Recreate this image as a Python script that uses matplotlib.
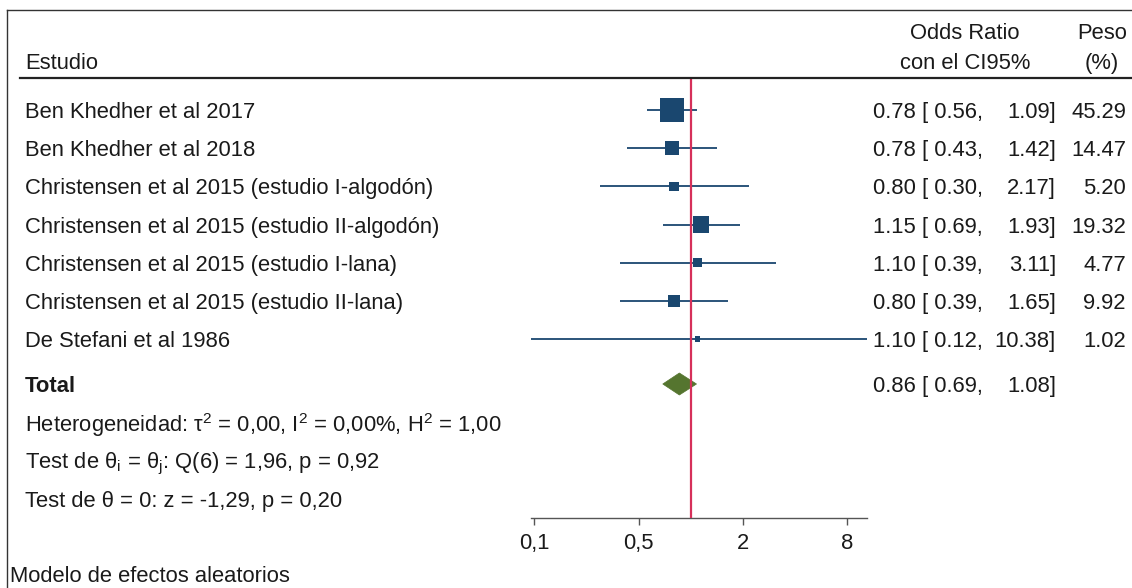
import matplotlib
matplotlib.use("Agg")
import matplotlib.pyplot as plt
import numpy as np
from matplotlib.lines import Line2D
from matplotlib.patches import Polygon
from matplotlib.transforms import blended_transform_factory

plt.rcParams['font.family'] = ['Liberation Sans', 'DejaVu Sans']
plt.rcParams['mathtext.fontset'] = 'custom'
plt.rcParams['mathtext.rm'] = 'Liberation Sans'

# datos del meta-analisis
estudios = ["Ben Khedher et al 2017",
            "Ben Khedher et al 2018",
            "Christensen et al 2015 (estudio I-algodón)",
            "Christensen et al 2015 (estudio II-algodón)",
            "Christensen et al 2015 (estudio I-lana)",
            "Christensen et al 2015 (estudio II-lana)",
            "De Stefani et al 1986"]
odds = [0.78, 0.78, 0.80, 1.15, 1.10, 0.80, 1.10]
ci_lo = [0.56, 0.43, 0.30, 0.69, 0.39, 0.39, 0.12]
ci_hi = [1.09, 1.42, 2.17, 1.93, 3.11, 1.65, 10.38]
peso = [45.29, 14.47, 5.20, 19.32, 4.77, 9.92, 1.02]

total_or = 0.86
total_lo = 0.69
total_hi = 1.08

tick_vals = [0.125, 0.5, 2, 8]
tick_labels = ["0,1", "0,5", "2", "8"]

navy = '#1a476f'
verde = '#55752f'
rojo = '#d6305a'
fs = 15.8

W, H = 1132, 588
fig = plt.figure(figsize=(W / 100, H / 100), dpi=100)

# ejes del forest plot (pixeles: x 531-867, y 78-518)
ax = fig.add_axes([531 / W, (H - 518) / H, 336 / W, 440 / H])
ax.set_xscale('log', base=2)
ax.set_xlim(0.12, 10.38)
row_step = 38.17
y_top = (78 - 110) / row_step
y_bot = (518 - 110) / row_step
ax.set_ylim(y_bot, y_top)

ys = np.arange(len(estudios))
ax.hlines(ys, ci_lo, ci_hi, color=navy, lw=1.3, zorder=2)
side_px = 3.3 * np.sqrt(np.array(peso)) + 1.8
ax.scatter(odds, ys, marker='s', s=(side_px * 0.72) ** 2, color=navy,
           linewidths=0, zorder=3)

y_total = (384 - 110) / row_step
h = 11 / row_step
diamante = Polygon([(total_lo, y_total), (total_or, y_total - h),
                    (total_hi, y_total), (total_or, y_total + h)],
                   closed=True, facecolor=verde, edgecolor=verde, lw=0.5, zorder=3)
ax.add_patch(diamante)

ax.axvline(1, color=rojo, lw=1.6, zorder=4)

for s in ['top', 'right', 'left']:
    ax.spines[s].set_visible(False)
ax.spines['bottom'].set_color('#555555')
ax.spines['bottom'].set_linewidth(1.0)
ax.set_yticks([])
ax.set_xticks(tick_vals)
ax.set_xticklabels(tick_labels)
ax.xaxis.set_minor_locator(matplotlib.ticker.NullLocator())
ax.tick_params(axis='x', direction='out', length=5, width=1.0, color='#555555',
               labelsize=fs, pad=6, labelcolor='#1a1a1a')
ax.patch.set_alpha(0)

tr = blended_transform_factory(fig.transFigure, ax.transData)
def fx(px):
    return px / W
def fy(py):
    # pixel vertical del centro del texto -> unidades de fila
    return (py + 2.5 - 110) / row_step

col = '#1a1a1a'
# cabecera
ax.text(fx(25), fy(61), "Estudio", transform=tr, fontsize=fs,
        va='center', ha='left', color=col)
ax.text(fx(965), fy(31), "Odds Ratio", transform=tr, fontsize=fs,
        va='center', ha='center', color=col)
ax.text(fx(965), fy(61), "con el CI95%", transform=tr, fontsize=fs,
        va='center', ha='center', color=col)
ax.text(fx(1102), fy(31), "Peso", transform=tr, fontsize=fs,
        va='center', ha='center', color=col)
ax.text(fx(1102), fy(61), "(%)", transform=tr, fontsize=fs,
        va='center', ha='center', color=col)

# filas de estudios
for i in range(len(estudios)):
    py = 110 + row_step * ys[i]
    ax.text(fx(25), fy(py), estudios[i], transform=tr, fontsize=fs,
            va='center', ha='left', color=col)
    ax.text(fx(873), fy(py), "%.2f [ %.2f," % (odds[i], ci_lo[i]), transform=tr,
            fontsize=fs, va='center', ha='left', color=col)
    ax.text(fx(1056), fy(py), "%.2f]" % ci_hi[i], transform=tr,
            fontsize=fs, va='center', ha='right', color=col)
    ax.text(fx(1126), fy(py), "%.2f" % peso[i], transform=tr,
            fontsize=fs, va='center', ha='right', color=col)

ax.text(fx(25), fy(384), "Total", transform=tr, fontsize=fs, fontweight='bold',
        va='center', ha='left', color=col)
ax.text(fx(873), fy(384), "%.2f [ %.2f," % (total_or, total_lo), transform=tr,
        fontsize=fs, va='center', ha='left', color=col)
ax.text(fx(1056), fy(384), "%.2f]" % total_hi, transform=tr,
        fontsize=fs, va='center', ha='right', color=col)

het = [r"Heterogeneidad: $\mathregular{τ^2}$ = 0,00, $\mathregular{I^2}$ = 0,00%, $\mathregular{H^2}$ = 1,00",
       r"Test de $\mathregular{θ_i}$ = $\mathregular{θ_j}$: Q(6) = 1,96, p = 0,92",
       "Test de θ = 0: z = -1,29, p = 0,20"]
het_px = [423, 461, 499]
for t, py in zip(het, het_px):
    ax.text(fx(25), fy(py), t, transform=tr, fontsize=fs,
            va='center', ha='left', color=col)

fig.text(fx(10), 1 - 577 / H, "Modelo de efectos aleatorios", fontsize=fs,
         va='center', ha='left', color=col)

# marco
fig.add_artist(Line2D([7 / W, 1], [1 - 10 / H, 1 - 10 / H], color='#333333',
                      lw=1.0, transform=fig.transFigure))
fig.add_artist(Line2D([7 / W, 7 / W], [0, 1 - 10 / H], color='#333333',
                      lw=1.0, transform=fig.transFigure))
fig.add_artist(Line2D([20 / W, 1], [1 - 78 / H, 1 - 78 / H], color='#222222',
                      lw=1.6, transform=fig.transFigure))

fig.savefig("out.png", dpi=100)
